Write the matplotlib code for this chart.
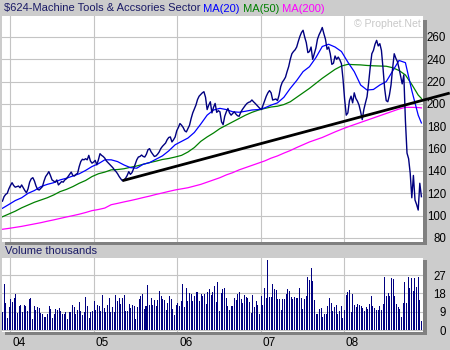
import matplotlib
matplotlib.use("Agg")
import matplotlib.pyplot as plt
import matplotlib.transforms as mtransforms
from matplotlib.patches import Rectangle
import pandas as pd

plt.rcParams["font.family"] = ["Liberation Sans", "DejaVu Sans"]

# ---- data -------------------------------------------------------------
start_date = "2003-11-28"

close = [
    113, 117, 119, 120, 124, 127, 129.5, 127, 125.5, 126,
    126.5, 125, 127.5, 125, 122.5, 120.5, 124, 130, 133, 134,
    131, 126.5, 123.5, 123, 124.5, 126, 131, 135, 137, 139.4,
    136, 132, 131, 130, 132, 127.5, 129, 130.5, 130, 132,
    133, 135, 137, 139, 136, 135.5, 137, 138, 144, 148.5,
    150.5, 150, 151, 150, 154, 149, 147, 148, 149.5, 145.5,
    150, 155.5, 154, 153, 151.5, 149, 147.5, 146, 144.5, 143,
    141, 139.5, 137.5, 135, 133, 131.3, 132, 133.5, 136, 139.4,
    137, 138.5, 142, 146, 150, 152.5, 153, 154.3, 153, 152.5,
    155, 159, 160, 157, 155, 153, 153.5, 155, 157, 160,
    162, 163.5, 165, 168, 170, 170.5, 166, 168, 170.5, 176,
    179, 182.5, 181, 179, 176, 175, 178, 181, 187, 192,
    195.5, 199, 204, 207, 208.5, 210, 211, 206, 195, 199,
    202, 192, 197, 200.5, 192.5, 194, 193, 184, 181.5, 189,
    193, 196, 192, 190, 191.5, 193, 191, 189.5, 189, 192.5,
    195, 197, 199, 200.6, 201.5, 202, 203.6, 202, 200.6, 199,
    197.5, 196, 195, 199, 203, 207, 210, 212, 210, 203.5,
    204, 204.5, 203, 208, 215.5, 219.5, 221.5, 224, 229, 233.5,
    240, 245, 247, 248.5, 251, 256, 260.5, 264, 266, 260,
    255, 246, 247, 251, 240, 245, 250, 258, 262, 265,
    268.5, 263, 258, 249, 251, 245, 235.5, 236.5, 243, 240,
    242, 239.5, 236, 222, 204, 190, 192, 203, 207, 201,
    210, 205, 202.5, 199, 193, 186, 195, 201, 206.5, 219,
    233, 245, 248, 253.5, 257, 252, 254, 248, 232, 214,
    203, 202, 208, 217, 232, 245, 241, 238, 232, 225,
    218, 226, 185, 156, 151, 138, 116, 136, 114, 110,
    105, 129, 117,
]

# moving averages, sampled every fourth week (plus the final week)
ma_weeks = list(range(0, 261, 4)) + [262]
ma20 = [
    106.6, 110, 113.5, 116, 120, 122.5, 126, 128, 129.5, 132,
    133.5, 135.5, 137.5, 140.5, 144, 146.5, 150, 150, 148.4, 145.4,
    143, 142.5, 146, 147.5, 150.5, 153.5, 158, 163.5, 166.5, 169.5,
    174.5, 182, 190, 194.6, 196.1, 195, 193, 192.6, 193.5, 194.6,
    195, 196.5, 199, 201, 206, 214, 221, 229, 233.4, 241.5,
    251.5, 253.5, 251, 247, 237.5, 229, 217, 212.5, 213, 217,
    220, 229.5, 239, 237, 212, 190, 183,
]
ma50 = [
    99, 101.5, 104, 107, 109.5, 112, 114, 116, 118.5, 121.5,
    123.5, 126, 129, 131.5, 135, 137.5, 139, 141, 141.3, 142,
    143.3, 144.5, 146, 147.5, 148.8, 150.3, 151.2, 152.5, 154, 157,
    161, 166.5, 170.5, 174, 178, 181, 184, 187, 190, 192.5,
    194.5, 196, 197.3, 198, 199.5, 202, 206, 210, 214, 218.5,
    223, 227, 231, 234, 235.5, 235.2, 235, 234.5, 234.2, 234,
    233.8, 232.5, 230, 226, 217.5, 208, 205,
]
ma200 = [
    87.8, 88.6, 89.5, 90.4, 91.5, 92.6, 93.7, 95, 96.2, 97.5,
    98.8, 100, 101.3, 102.8, 104.5, 105.5, 106.8, 109.8, 111, 112.3,
    113.5, 114.8, 116.2, 117.5, 119, 120.3, 121.7, 123, 124, 125,
    126.5, 128, 130, 132, 134, 136.5, 138.5, 141, 143, 145,
    147, 149, 151.5, 153.5, 156, 158.3, 161, 163.5, 166, 168,
    170, 172.5, 175, 177.3, 179.5, 181.5, 183.5, 185.5, 187.5, 189.5,
    191.5, 193.5, 195.5, 197, 197, 196.8, 196.5,
]

# support line drawn through the spring 2005 low
trend_dates = ["2005-05-06", "2009-04-08"]
trend_values = [131.3, 209.8]

# weekly volume, thousands
volume = [
    9.0, 22.4, 13.1, 5.7, 11.5, 15.1, 13.9, 15.5, 17.5, 8.5,
    11.8, 12.3, 9.0, 12.1, 11.8, 9.3, 15.4, 15.9, 5.2, 11.8,
    9.8, 11.5, 10.6, 8.5, 8.0, 6.4, 6.4, 8.0, 11.8, 10.1,
    6.1, 8.0, 10.1, 9.7, 10.6, 9.3, 8.0, 7.7, 9.0, 5.2,
    9.0, 9.0, 12.3, 11.3, 7.7, 9.7, 13.7, 9.3, 7.2, 9.0,
    16.2, 11.8, 6.1, 9.0, 9.3, 14.2, 9.8, 12.3, 11.8, 9.3,
    17.0, 11.0, 9.0, 12.1, 15.9, 9.0, 11.3, 9.0, 17.0, 14.2,
    15.5, 12.6, 15.5, 17.0, 9.3, 9.3, 12.6, 10.6, 12.3, 11.8,
    5.2, 11.3, 15.4, 16.7, 17.5, 10.1, 11.8, 22.1, 12.1, 15.5,
    12.3, 14.7, 11.8, 14.6, 19.1, 16.7, 15.1, 14.7, 9.7, 13.1,
    16.7, 15.4, 10.1, 7.4, 12.3, 13.4, 11.8, 14.2, 22.7, 11.3,
    20.5, 14.2, 18.3, 17.5, 14.2, 16.7, 18.8, 18.8, 14.2, 17.8,
    16.7, 17.5, 12.6, 18.8, 20.0, 17.2, 18.8, 21.6, 13.9, 23.6,
    9.3, 18.3, 20.0,
    20.5, 15.9, 11.8, 9.7, 11.8, 11.8, 15.5, 14.6, 17.8, 18.8,
    15.1, 13.4, 17.2, 16.2, 15.9, 13.7, 8.5, 17.0, 11.3, 14.2,
    12.3, 7.7, 16.7, 12.3, 20.5, 15.9, 34.2, 16.4, 16.4, 22.7,
    20.0, 19.6, 15.1, 15.1, 9.7, 15.1, 15.1, 17.5, 20.0, 19.1,
    16.2, 15.1, 16.2, 15.9, 15.9, 20.8, 15.9, 10.1, 15.1, 16.7,
    26.0, 24.5, 30.3, 24.0, 14.6, 8.0, 8.0, 10.1, 11.0, 6.5,
    7.7, 7.7, 11.8, 15.5, 13.4, 9.3, 11.3, 12.3, 7.7, 9.3,
    11.8, 5.7, 9.7, 17.2, 18.8, 19.5, 9.0, 17.5, 12.1, 11.3,
    12.6, 12.3, 11.8, 10.6, 9.3, 11.3, 10.1, 12.9, 16.7, 11.8,
    11.0, 9.7, 9.7, 11.8, 9.7, 12.6, 26.0, 16.7, 18.3, 16.7,
    25.4, 24.9, 16.7, 12.9, 11.3, 10.1, 6.4, 13.4, 23.6, 13.4,
    26.2, 20.5, 25.7, 19.1, 25.7, 21.1, 26.0, 14.6, 4.4,
]

price_ticks = [80, 100, 120, 140, 160, 180, 200, 220, 240, 260]
volume_ticks = [0, 9, 18, 27]
year_labels = ["04", "05", "06", "07", "08"]
year_starts = ["2004-01-01", "2005-01-01", "2006-01-01", "2007-01-01", "2008-01-01"]

# ---- derived series ---------------------------------------------------
dates = pd.date_range(start=start_date, periods=len(close), freq="7D")
ma_dates = dates[ma_weeks]
vol_dates = pd.date_range(start=dates[0], end=dates[-1], periods=len(volume))

# ---- style ------------------------------------------------------------
BG = "#cccccc"
SHADOW = "#808080"
GRID = "#c4c4c4"
NAVY = "#000080"
TXT = "#1a1a66"
FS = 8.0

W, H = 450, 350
fig = plt.figure(figsize=(W / 100, H / 100), dpi=100, facecolor=BG)


def box(l, t, r, b):
    return [l / W, 1 - b / H, (r - l) / W, (b - t) / H]


def shade(l, t, r, b, color):
    fig.add_artist(Rectangle((l / W, 1 - b / H), (r - l) / W, (b - t) / H,
                             transform=fig.transFigure, facecolor=color,
                             edgecolor="none", zorder=0))


# panel drop shadows
shade(423, 20, 427, 245, SHADOW)
shade(5, 242, 427, 245, SHADOW)
shade(423, 260, 427, 335, SHADOW)
shade(5, 331.5, 427, 335, SHADOW)

ax = fig.add_axes(box(2, 16, 423, 242))
axv = fig.add_axes(box(2, 257.5, 423, 331.5), sharex=ax)

xmin = pd.Timestamp("2003-11-26")
xmax = pd.Timestamp("2008-12-12")

for a in (ax, axv):
    a.set_facecolor("white")
    for s in a.spines.values():
        s.set_visible(False)
    a.set_xlim(xmin, xmax)
    for d in year_starts:
        a.axvline(pd.Timestamp(d), color=GRID, lw=0.8, zorder=0)
    a.tick_params(axis="both", length=0, labelsize=FS + 0.3, colors="black")
    a.yaxis.tick_right()
    a.set_xticks([])

# price panel
ax.set_ylim(76.4, 278.8)
for v in price_ticks:
    ax.axhline(v, color=GRID, lw=0.8, zorder=0)
ax.set_yticks(price_ticks)
ax.set_yticklabels([str(v) for v in price_ticks])
for lab in ax.get_yticklabels():
    lab.set_horizontalalignment("right")
ax.tick_params(axis="y", pad=16.6)

ax.plot(ma_dates, ma200, color="#ff00ff", lw=0.9, zorder=2)
ax.plot(ma_dates, ma50, color="#008000", lw=0.9, zorder=3)
ax.plot(ma_dates, ma20, color="#0000ff", lw=0.9, zorder=4)
ax.plot(dates, close, color=NAVY, lw=1.0, zorder=5)
ax.plot(pd.to_datetime(trend_dates), trend_values, color="black", lw=2.0,
        solid_capstyle="butt", clip_on=False, zorder=6)

ax.text(0.995, 0.985, "\u00a9 Prophet.Net", transform=ax.transAxes,
        ha="right", va="top", fontsize=7.6, color="#c8c8c8")

# volume panel
axv.set_ylim(-0.7, 35.6)
for v in volume_ticks:
    axv.axhline(v, color=GRID, lw=0.8, zorder=0)
axv.set_yticks(volume_ticks)
axv.set_yticklabels([str(v) for v in volume_ticks])
for lab in axv.get_yticklabels():
    lab.set_horizontalalignment("right")
axv.tick_params(axis="y", pad=16.6)
axv.bar(vol_dates, volume, width=4.4, color=NAVY, linewidth=0, zorder=2)

# year labels under the volume panel
lab_tr = mtransforms.blended_transform_factory(axv.transData, axv.transAxes)
off = mtransforms.ScaledTranslation(2 / 100, 0, fig.dpi_scale_trans)
for d, t in zip(year_starts, year_labels):
    axv.text(pd.Timestamp(d), -0.155, t, transform=lab_tr + off,
             ha="left", va="center", fontsize=FS + 0.5, color="black")

# header bar: sector name followed by the moving-average legend
prev = fig.text(4 / W, 1 - 8.5 / H, "$624-Machine Tools & Accsories Sector",
                ha="left", va="center", fontsize=FS, color=TXT)
for txt, col in ((" MA(20)", "#0000ff"), (" MA(50)", "#008000"), (" MA(200)", "#ff00ff")):
    prev = ax.annotate(txt, xy=(1, 0.5), xycoords=prev, ha="left", va="center",
                       fontsize=FS, color=col, annotation_clip=False)

# "Volume thousands" caption strip
fig.text(5 / W, 1 - 251 / H, "Volume thousands", ha="left", va="center",
         fontsize=FS, color=TXT)

fig.savefig("out.png", dpi=100, facecolor=BG)
